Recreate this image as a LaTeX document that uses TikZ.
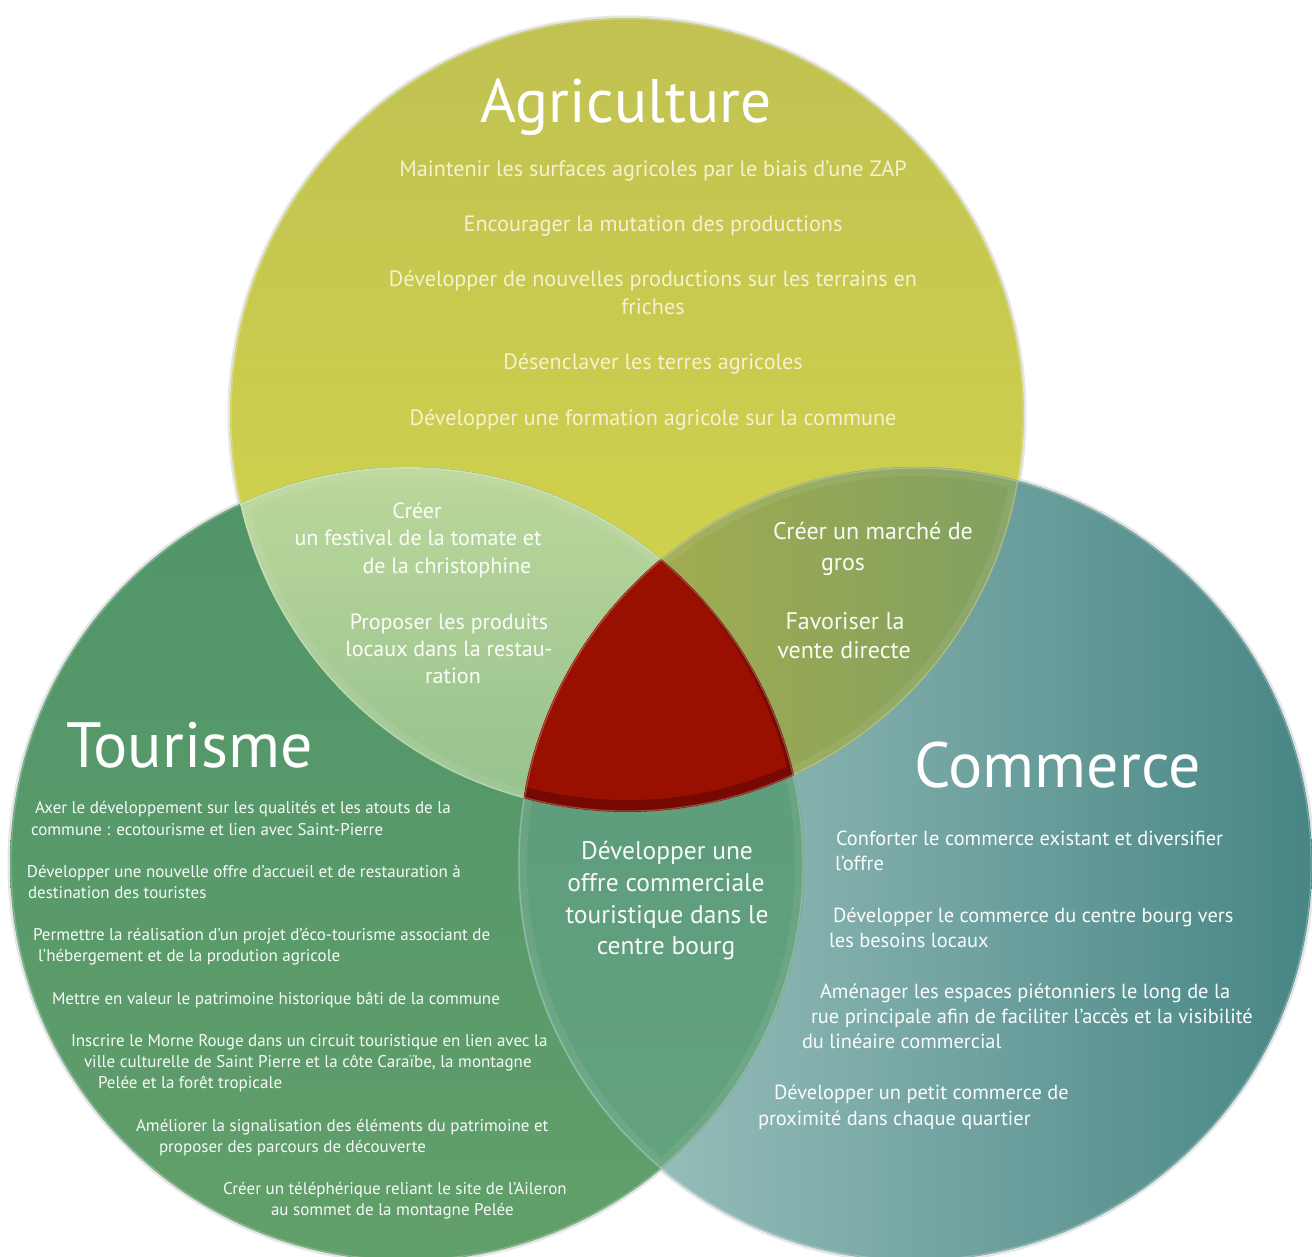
\documentclass[tikz,border=0pt]{standalone}
\usepackage{fontspec}
\setmainfont{PT Sans}
\definecolor{agtop}{HTML}{C0C152}
\definecolor{agbot}{HTML}{D6D84A}
\definecolor{tourtop}{HTML}{4F9469}
\definecolor{tourbot}{HTML}{629F6A}
\definecolor{comL}{HTML}{A6C8C4}
\definecolor{comR}{HTML}{478685}
\definecolor{atTop}{HTML}{BDD89B}
\definecolor{atBot}{HTML}{95C18E}
\definecolor{acL}{HTML}{ADB049}
\definecolor{acR}{HTML}{80A062}
\definecolor{tcTop}{HTML}{5A9B7B}
\definecolor{tcBot}{HTML}{64A27E}
\definecolor{ctrred}{HTML}{9A1000}
\definecolor{ctrdark}{HTML}{760A02}
\definecolor{agtext}{HTML}{F4F2D2}
\tikzset{
  base/.style={inner sep=0pt, outer sep=0pt, text height=.7em, text depth=.2em},
  title/.style={inner sep=0pt, text=white, font=\fontsize{61.5}{64}\selectfont},
  btitle/.style={inner sep=0pt, text=white, font=\fontsize{64}{66}\selectfont},
  agitem/.style={base, text=agtext, font=\fontsize{22.2}{26}\selectfont, yshift=-5.5pt},
  atitem/.style={base, text=white!95!atTop, font=\fontsize{22}{25}\selectfont, yshift=-5.5pt},
  acitem/.style={base, text=white!95!acL, font=\fontsize{24}{26}\selectfont, yshift=-6pt},
  tcitem/.style={base, text=white!95!tcTop, font=\fontsize{25.5}{28}\selectfont, yshift=-6pt},
  touritem/.style={base, text=white!95!tourtop, font=\fontsize{17}{19}\selectfont, anchor=west, yshift=-4.5pt},
  comitem/.style={base, text=white!95!comL, font=\fontsize{20.4}{24}\selectfont, anchor=west, yshift=-5pt},
  rim/.style={white, opacity=0.25, line width=1.2pt},
  glow/.style={white, opacity=0.07, line width=18pt}
}
\begin{document}
\begin{tikzpicture}[x=1pt,y=-1pt]
\useasboundingbox (0,0) rectangle (1312,1257);
\fill[white] (0,0) rectangle (1312,1257);
\coordinate (A) at (627,415);
\coordinate (T) at (407,864);
\coordinate (C) at (915,864);
% soft halos
\foreach \c in {A,T,C} \draw[black!10, line width=3pt] (\c) circle (398pt);
% main circles
\begin{scope}
  \clip (A) circle (397pt);
  \shade[top color=agtop, bottom color=agbot] (220,10) rectangle (1040,820);
\end{scope}
\begin{scope}
  \clip (T) circle (397pt);
  \shade[top color=tourtop, bottom color=tourbot] (0,460) rectangle (820,1270);
\end{scope}
\begin{scope}
  \clip (C) circle (397pt);
  \shade[left color=comL, right color=comR] (518,460) rectangle (1312,1270);
\end{scope}
% Tourisme / Commerce lens
\begin{scope}
  \clip (T) circle (397pt);
  \clip (C) circle (397pt);
  \shade[top color=tcTop, bottom color=tcBot] (500,550) rectangle (820,1180);
  \draw[glow] (T) circle (397pt) (C) circle (397pt);
\end{scope}
% Agriculture / Tourisme lens
\begin{scope}
  \clip (A) circle (397pt);
  \clip (T) circle (397pt);
  \shade[top color=atTop, bottom color=atBot] (230,460) rectangle (800,810);
  \draw[glow] (A) circle (397pt) (T) circle (397pt);
\end{scope}
% Agriculture / Commerce lens
\begin{scope}
  \clip (A) circle (397pt);
  \clip (C) circle (397pt);
  \shade[left color=acL, right color=acR] (520,460) rectangle (1030,810);
  \draw[glow] (A) circle (397pt) (C) circle (397pt);
\end{scope}
% centre
\begin{scope}
  \clip (A) circle (397pt);
  \clip (T) circle (397pt);
  \fill[ctrdark] (C) circle (397pt);
  \clip (627,403) circle (397pt);
  \clip (401,861) circle (397pt);
  \fill[ctrred] (C) circle (397pt);
\end{scope}
% rims
\foreach \c in {A,T,C} \draw[rim] (\c) circle (396pt);

% titles
\node[title, anchor=base] (agt) at (626,123) {Agriculture};
\node[btitle, anchor=base west] (tot) at (66,767) {Tourisme};
\node[btitle, anchor=base west] (cot) at (914,787) {Commerce};

% agriculture items
\node[agitem] (a1) at (653,169) {Maintenir les surfaces agricoles par le biais d'une ZAP};
\node[agitem] (a2) at (653,224) {Encourager la mutation des productions};
\node[agitem] (a3) at (653,279) {Développer de nouvelles productions sur les terrains en};
\node[agitem] (a3b) at (653,307) {friches};
\node[agitem] (a4) at (653,362) {Désenclaver les terres agricoles};
\node[agitem] (a5) at (653,417) {Développer une formation agricole sur la commune};

% agriculture / tourisme
\node[atitem] (at1) at (417,510) {Créer};
\node[atitem] (at2) at (418,537) {un festival de la tomate et};
\node[atitem] (at3) at (447,565) {de la christophine};
\node[atitem] (at4) at (449,621) {Proposer les produits};
\node[atitem] (at5) at (449,648) {locaux dans la restau-};
\node[atitem] (at6) at (453,675) {ration};

% agriculture / commerce
\node[acitem] (ac1) at (873,531) {Créer un marché de};
\node[acitem] (ac2) at (843,562) {gros};
\node[acitem] (ac3) at (845,621) {Favoriser la};
\node[acitem] (ac4) at (844,650) {vente directe};

% tourisme / commerce
\node[tcitem] (tc1) at (667,851) {Développer une};
\node[tcitem] (tc2) at (666,883) {offre commerciale};
\node[tcitem] (tc3) at (667,915) {touristique dans le};
\node[tcitem] (tc4) at (666,946) {centre bourg};

% tourisme items
\node[touritem] (t1) at (35,806) {Axer le développement sur les qualités et les atouts de la};
\node[touritem] (t2) at (31,828) {commune : ecotourisme et lien avec Saint-Pierre};
\node[touritem] (t3) at (27,870) {Développer une nouvelle offre d'accueil et de restauration à};
\node[touritem] (t4) at (28,891) {destination des touristes};
\node[touritem] (t5) at (33,933) {Permettre la réalisation d'un projet d'éco-tourisme associant de};
\node[touritem] (t6) at (38,954) {l'hébergement et de la prodution agricole};
\node[touritem] (t7) at (52,997) {Mettre en valeur le patrimoine historique bâti de la commune};
\node[touritem] (t8) at (71,1039) {Inscrire le Morne Rouge dans un circuit touristique en lien avec la};
\node[touritem] (t9) at (84,1060) {ville culturelle de Saint Pierre et la côte Caraïbe, la montagne};
\node[touritem] (t10) at (98,1081) {Pelée et la forêt tropicale};
\node[touritem] (t11) at (136,1124) {Améliorer la signalisation des éléments du patrimoine et};
\node[touritem] (t12) at (159,1145) {proposer des parcours de découverte};
\node[touritem] (t13) at (223,1187) {Créer un téléphérique reliant le site de l'Aileron};
\node[touritem] (t14) at (271,1208) {au sommet de la montagne Pelée};

% commerce items
\node[comitem] (c1) at (836,838) {Conforter le commerce existant et diversifier};
\node[comitem] (c2) at (835,863) {l'offre};
\node[comitem] (c3) at (833,915) {Développer le commerce du centre bourg vers};
\node[comitem] (c4) at (829,940) {les besoins locaux};
\node[comitem] (c5) at (820,991) {Aménager les espaces piétonniers le long de la};
\node[comitem] (c6) at (811,1016) {rue principale afin de faciliter l'accès et la visibilité};
\node[comitem] (c7) at (802,1041) {du linéaire commercial};
\node[comitem] (c8) at (774,1092) {Développer un petit commerce de};
\node[comitem] (c9) at (758,1118) {proximité dans chaque quartier};
\end{tikzpicture}
\end{document}
